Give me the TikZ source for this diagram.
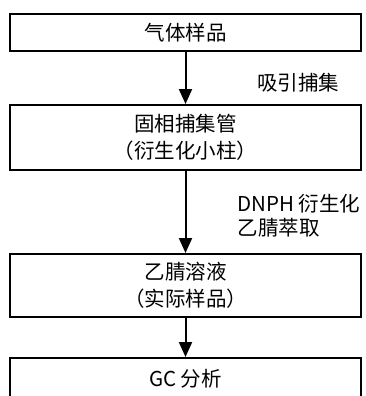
\documentclass[tikz,border=0pt]{standalone}
\usepackage{fontspec}
\setmainfont{Noto Sans CJK SC}
\usetikzlibrary{arrows.meta}
\begin{document}
\begin{tikzpicture}[x=1pt,y=-1pt,
  box/.style={draw,line width=2pt,minimum width=351pt,inner sep=0pt,
    font=\fontsize{20.5}{27}\selectfont,align=center},
  flow/.style={line width=2pt,-{Triangle[length=15pt,width=13pt]}},
  lab/.style={font=\fontsize{20.5}{24}\selectfont,align=left,inner sep=0pt}]
\useasboundingbox (0,0) rectangle (366,396);
\clip (0,0) rectangle (366,396);
\node[box,minimum height=37pt] (b1) at (185.5,32.5) {气体样品};
\node[box,minimum height=65pt] (b2) at (185.5,137.5) {固相捕集管\\（衍生化小柱）};
\node[box,minimum height=63pt] (b3) at (185.5,285.5) {乙腈溶液\\（实际样品）};
\node[box,minimum height=42pt] (b4) at (185.5,379) {GC 分析};
\draw[flow] (b1) -- (b2);
\draw[flow] (b2) -- (b3);
\draw[flow] (b3) -- (b4);
\node[lab] (l1) at (298,83) {吸引捕集};
\node[lab] (l2) at (299,216) {DNPH 衍生化\\乙腈萃取};
\end{tikzpicture}
\end{document}
